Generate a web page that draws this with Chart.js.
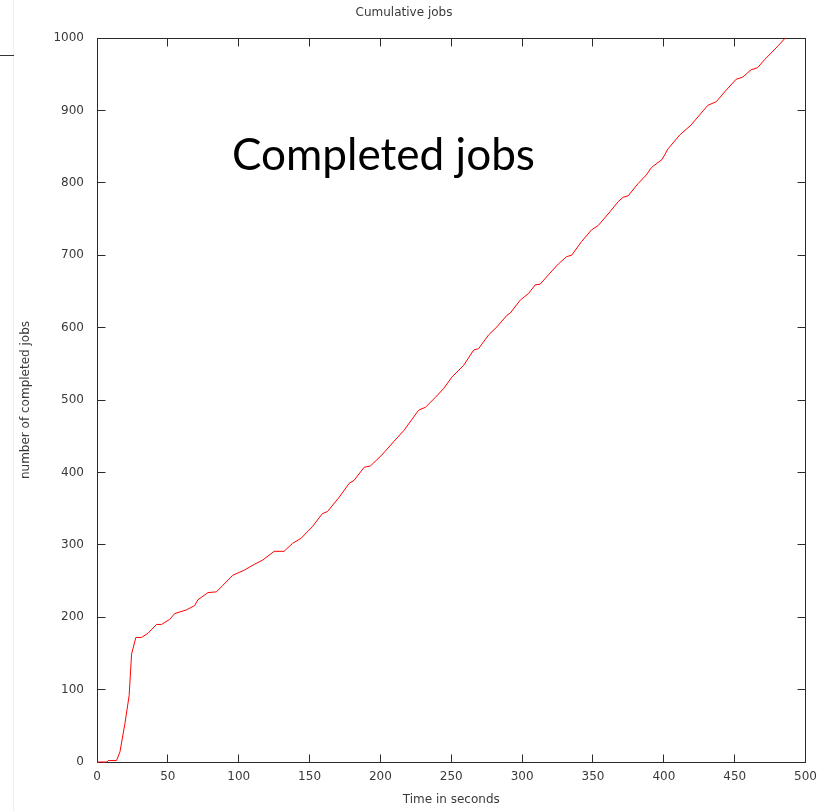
<!DOCTYPE html>
<html>
<head>
<meta charset="utf-8">
<script src="https://cdn.jsdelivr.net/npm/chart.js@4/dist/chart.umd.min.js"></script>
<style>
  html, body { margin: 0; padding: 0; background: #fff; }
  #wrap { position: relative; width: 825px; height: 811px; }
  #edge { position: absolute; left: 13px; top: 0; width: 0; height: 811px; border-left: 1px solid #efefef; }
  #stub { position: absolute; left: 0; top: 55px; width: 14px; height: 0; border-top: 1px solid #333; }
</style>
</head>
<body>
<div id="wrap">
  <canvas id="c" width="825" height="811"></canvas>
  <div id="edge"></div>
  <div id="stub"></div>
</div>
<script>
// Cumulative count of completed jobs over time
const timeSec = [0, 7, 8, 13.8, 16.2, 19.7, 22.7, 24.4, 27.4, 31.4, 36.1, 42, 45.5, 51.3, 54.8, 63, 68.9, 71.2, 78.3, 84.2,
  88.8, 95.9, 104, 111, 117, 125, 132, 138, 144, 152, 159, 162.7, 171, 178, 181.4, 188.5, 193, 201, 209.6, 216.6,
  227, 231.8, 239, 244.7, 250.6, 258.8, 265.8, 269.3, 276.4, 282.2, 289.3, 291.6, 298.7, 304.5, 309.2, 312.7, 318.6,
  325.6, 331.4, 335, 342, 349, 353.7, 362, 367.8, 371.3, 374.8, 381.9, 387.7, 391.2, 395.9, 398.7, 403, 411.2, 419.3,
  431, 437, 444, 451, 455.7, 461.5, 466.2, 471, 475.6, 481, 485.7];
const completedJobs = [0, 0, 2, 2, 14, 53, 92, 149, 172, 172, 178, 190, 190, 197, 205, 210, 216, 224, 234, 235,
  244, 258, 265, 273, 279, 291, 291, 302, 309, 325, 343, 346, 366, 385, 389, 407, 409, 424, 443, 458,
  486, 490, 504, 516, 532, 548, 569, 571, 590, 601, 617, 620, 638, 647, 659, 660, 673,
  688, 698, 700, 719, 735, 741, 760, 774, 780, 782, 799, 811, 821, 828, 832, 847, 866, 880,
  907, 912, 928, 943, 946, 956, 959, 970, 979, 990, 1000];

const xTickValues = [0, 50, 100, 150, 200, 250, 300, 350, 400, 450, 500];
const yTickValues = [0, 100, 200, 300, 400, 500, 600, 700, 800, 900, 1000];

const chartTitle = 'Cumulative jobs';
const xAxisTitle = 'Time in seconds';
const yAxisTitle = 'number of completed jobs';
const bigNote = 'Completed jobs';

const axisFont = { family: 'DejaVu Sans', size: 12 };
const textColor = '#3a3a3a';
const frameColor = '#2a2a2a';

// Frame on all four sides with inward-pointing mirrored ticks (drawn under the data line)
const framePlugin = {
  id: 'frame',
  beforeDatasetsDraw(chart) {
    const { ctx, chartArea: a, scales: { x, y } } = chart;
    const L = Math.floor(a.left) + 0.5, R = Math.floor(a.right) + 0.5;
    const T = Math.floor(a.top) + 0.5, B = Math.floor(a.bottom) + 0.5;
    const len = 8;
    ctx.save();
    ctx.strokeStyle = frameColor;
    ctx.lineWidth = 1;
    ctx.beginPath();
    xTickValues.forEach(v => {
      const px = Math.floor(x.getPixelForValue(v)) + 0.5;
      ctx.moveTo(px, B); ctx.lineTo(px, B - len);
      ctx.moveTo(px, T); ctx.lineTo(px, T + len);
    });
    yTickValues.forEach(v => {
      const py = Math.floor(y.getPixelForValue(v)) + 0.5;
      ctx.moveTo(L, py); ctx.lineTo(L + len, py);
      ctx.moveTo(R, py); ctx.lineTo(R - len, py);
    });
    ctx.stroke();
    ctx.strokeRect(L, T, R - L, B - T);
    ctx.restore();
  }
};

// Large caption inside the plot area
const notePlugin = {
  id: 'note',
  afterDraw(chart) {
    const { ctx, chartArea: a } = chart;
    ctx.save();
    ctx.font = '100px Lato';
    const w = ctx.measureText(bigNote).width;
    const size = 100 * 303 / w;
    ctx.font = size + 'px Lato';
    ctx.fillStyle = '#000';
    ctx.textBaseline = 'alphabetic';
    ctx.textAlign = 'left';
    ctx.fillText(bigNote, a.left + 135, a.top + 132);
    ctx.restore();
  }
};

new Chart(document.getElementById('c'), {
  type: 'line',
  data: {
    datasets: [{
      data: timeSec.map((t, i) => ({ x: t, y: completedJobs[i] })),
      borderColor: '#ff0000',
      borderWidth: 1,
      pointRadius: 0,
      tension: 0,
      fill: false,
      clip: 2
    }]
  },
  options: {
    responsive: false,
    animation: false,
    layout: { padding: { left: 0, right: 17, top: 0, bottom: 0 } },
    plugins: {
      legend: { display: false },
      tooltip: { enabled: false },
      title: {
        display: true,
        text: chartTitle,
        color: textColor,
        font: { family: 'DejaVu Sans', size: 12, weight: 'normal' },
        padding: { top: 6, bottom: 17.6 }
      }
    },
    scales: {
      x: {
        type: 'linear',
        min: 0, max: 500,
        grid: { display: false, drawTicks: false },
        border: { display: false },
        afterBuildTicks(s) { s.ticks = xTickValues.map(v => ({ value: v })); },
        afterFit(s) { s.height = 49; },
        ticks: { color: textColor, font: axisFont, padding: 8, autoSkip: false, maxRotation: 0,
                 callback: v => String(v) },
        title: { display: true, text: xAxisTitle, color: textColor, font: axisFont, padding: { top: 0, bottom: 4 } }
      },
      y: {
        type: 'linear',
        min: 0, max: 1000,
        grid: { display: false, drawTicks: false },
        border: { display: false },
        afterBuildTicks(s) { s.ticks = yTickValues.map(v => ({ value: v })); },
        afterFit(s) { s.width = 97; },
        ticks: { color: textColor, font: axisFont, padding: 13, autoSkip: false,
                 callback: v => String(v) },
        title: { display: true, text: yAxisTitle, color: textColor, font: axisFont, padding: { top: 19, bottom: 0 } }
      }
    }
  },
  plugins: [framePlugin, notePlugin]
});
</script>
</body>
</html>
